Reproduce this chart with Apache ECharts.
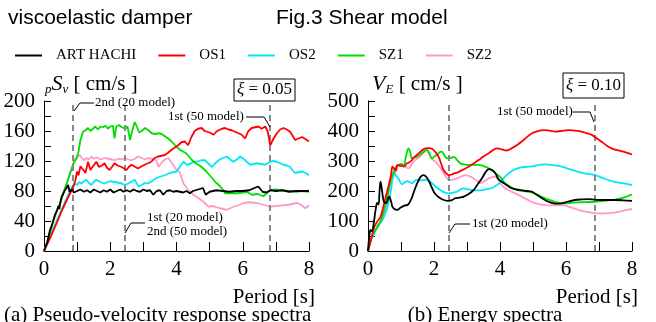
<!DOCTYPE html>
<html>
<head>
<meta charset="utf-8">
<script src="https://cdn.jsdelivr.net/npm/echarts@6/dist/echarts.min.js"></script>
<style>
  html, body { margin: 0; padding: 0; background: #fff; }
  #chart { width: 656px; height: 322px; }
</style>
</head>
<body>
<div id="chart"></div>
<script>
// series names, legend order
const seriesNames = ['ART HACHI', 'OS1', 'OS2', 'SZ1', 'SZ2']

// (a) pseudo-velocity response spectra [period s, cm/s]
const psvArt = [[0,0],[0.1,12],[0.18,28],[0.25,36],[0.33,48],[0.4,55],[0.43,60],[0.46,56],[0.5,66],[0.53,72],[0.58,76],[0.63,81],[0.68,84],[0.73,88],[0.77,79],[0.85,82],[0.9,78],[1.0,80],[1.1,82],[1.2,79],[1.3,81],[1.4,78],[1.5,82],[1.6,80],[1.7,78],[1.8,81],[1.9,79],[2.0,82],[2.1,78],[2.2,80],[2.3,82],[2.4,79],[2.5,81],[2.6,79],[2.7,82],[2.8,80],[2.9,79],[3.0,82],[3.1,80],[3.2,81],[3.3,75],[3.4,80],[3.5,81],[3.6,75],[3.7,80],[3.8,81],[3.9,79],[4.0,80],[4.2,78],[4.3,80],[4.4,77],[4.5,80],[4.65,82],[4.8,84],[4.88,75],[5.0,79],[5.2,81],[5.4,80],[5.6,79],[5.8,80],[6.0,80],[6.2,81],[6.35,84],[6.47,86],[6.6,79],[6.7,78],[6.85,81],[7.0,80],[7.2,81],[7.4,79],[7.6,80],[7.8,80],[8.0,80]]
const psvOs1 = [[0,0],[0.2,19],[0.38,37],[0.55,55],[0.69,68],[0.8,78],[0.89,86],[0.95,95],[1.0,106],[1.04,101],[1.1,113],[1.19,108],[1.25,104],[1.33,119],[1.4,108],[1.48,113],[1.58,119],[1.66,112],[1.75,114],[1.83,117],[1.9,111],[1.98,108],[2.05,112],[2.13,117],[2.22,114],[2.34,112],[2.42,110],[2.49,108],[2.56,112],[2.64,115],[2.72,113],[2.84,110],[2.95,113],[3.04,115],[3.14,117],[3.24,119],[3.34,124],[3.44,126],[3.55,127],[3.65,128],[3.75,131],[3.85,135],[3.95,138],[4.05,141],[4.15,145],[4.25,146],[4.35,141],[4.45,152],[4.55,160],[4.65,163],[4.76,164],[4.85,160],[4.91,159],[5.0,158],[5.12,155],[5.2,159],[5.27,161],[5.37,163],[5.47,164],[5.57,162],[5.67,161],[5.77,159],[5.87,157],[5.97,155],[6.07,150],[6.17,160],[6.27,164],[6.37,165],[6.47,166],[6.57,163],[6.68,166],[6.75,160],[6.83,141],[6.93,150],[7.03,157],[7.13,162],[7.23,164],[7.33,162],[7.43,159],[7.5,154],[7.58,148],[7.68,150],[7.79,152],[7.9,149],[8.0,146]]
const psvOs2 = [[0,0],[0.2,20],[0.4,42],[0.6,62],[0.78,79],[0.85,86],[0.93,90],[1.0,88],[1.06,92],[1.13,90],[1.2,93],[1.28,95],[1.35,91],[1.43,88],[1.5,92],[1.58,95],[1.66,93],[1.75,91],[1.83,90],[1.92,92],[2.0,93],[2.13,92],[2.25,91],[2.35,90],[2.44,88],[2.55,90],[2.65,93],[2.74,95],[2.8,90],[2.86,86],[2.95,88],[3.05,91],[3.14,90],[3.25,93],[3.39,97],[3.5,99],[3.65,101],[3.8,104],[4.0,106],[4.1,112],[4.21,119],[4.31,115],[4.41,116],[4.51,119],[4.61,119],[4.75,121],[4.86,121],[4.95,117],[5.07,112],[5.17,117],[5.27,121],[5.4,124],[5.52,126],[5.62,122],[5.72,119],[5.82,122],[5.92,126],[6.02,123],[6.12,119],[6.22,115],[6.32,116],[6.42,117],[6.55,116],[6.67,115],[6.75,117],[6.83,119],[6.93,120],[7.03,119],[7.13,117],[7.23,115],[7.33,114],[7.43,112],[7.5,108],[7.58,104],[7.68,105],[7.79,106],[7.9,104],[8.0,101]]
const psvSz1 = [[0,0],[0.15,18],[0.28,40],[0.4,55],[0.5,65],[0.58,77],[0.7,92],[0.79,104],[0.89,117],[0.98,123],[1.04,132],[1.1,148],[1.18,159],[1.25,161],[1.33,164],[1.4,160],[1.48,163],[1.55,166],[1.63,162],[1.7,166],[1.78,165],[1.86,167],[1.93,163],[2.0,166],[2.08,167],[2.13,150],[2.18,166],[2.26,168],[2.35,165],[2.45,163],[2.52,166],[2.6,148],[2.66,160],[2.74,172],[2.8,166],[2.87,158],[2.95,160],[3.05,164],[3.15,161],[3.25,157],[3.35,156],[3.45,157],[3.55,156],[3.65,153],[3.75,150],[3.85,146],[4.0,139],[4.1,135],[4.3,130],[4.45,122],[4.57,117],[4.7,114],[4.81,110],[4.9,106],[5.0,101],[5.1,96],[5.17,92],[5.25,89],[5.32,86],[5.4,82],[5.47,77],[5.6,77],[5.82,77],[6.0,78],[6.13,79],[6.27,75],[6.45,76],[6.62,73],[6.7,76],[6.83,81],[7.0,82],[7.13,81],[7.4,80],[7.63,79],[7.8,80],[8.0,79]]
const psvSz2 = [[0,0],[0.15,18],[0.28,40],[0.45,60],[0.58,77],[0.7,92],[0.8,105],[0.88,115],[0.93,123],[1.0,125],[1.08,128],[1.14,124],[1.2,121],[1.28,124],[1.35,122],[1.43,126],[1.5,123],[1.6,125],[1.7,122],[1.83,124],[1.95,123],[2.05,122],[2.13,121],[2.25,123],[2.35,122],[2.44,124],[2.55,122],[2.64,121],[2.75,123],[2.84,126],[2.95,124],[3.05,122],[3.14,124],[3.25,123],[3.39,121],[3.46,112],[3.55,118],[3.65,122],[3.75,124],[3.85,118],[4.0,108],[4.1,105],[4.21,90],[4.31,84],[4.41,79],[4.51,75],[4.61,72],[4.71,69],[4.81,66],[4.9,62],[4.97,59],[5.07,60],[5.17,59],[5.3,57],[5.42,56],[5.52,55],[5.62,57],[5.72,59],[5.87,61],[6.02,64],[6.2,65],[6.42,64],[6.6,62],[6.83,59],[7.0,60],[7.23,61],[7.43,62],[7.63,64],[7.75,62],[7.89,57],[8.0,61]]

// (b) energy spectra [period s, cm/s]
const veArt = [[0,0],[0.04,50],[0.08,70],[0.12,66],[0.18,98],[0.23,137],[0.28,160],[0.32,155],[0.35,200],[0.38,231],[0.43,198],[0.48,164],[0.55,160],[0.64,181],[0.7,165],[0.74,148],[0.8,140],[0.89,137],[0.97,143],[1.04,148],[1.12,152],[1.19,153],[1.25,160],[1.32,175],[1.4,200],[1.5,228],[1.6,248],[1.69,253],[1.78,245],[1.86,230],[1.94,210],[2.04,190],[2.19,176],[2.3,170],[2.44,167],[2.55,170],[2.65,176],[2.78,178],[2.9,181],[3.05,190],[3.2,203],[3.32,222],[3.45,242],[3.56,262],[3.66,273],[3.76,270],[3.86,259],[3.95,240],[4.05,231],[4.2,220],[4.35,209],[4.5,205],[4.65,203],[4.8,200],[4.96,198],[5.1,188],[5.27,176],[5.45,165],[5.62,159],[5.75,158],[5.87,159],[6.07,165],[6.27,170],[6.47,172],[6.67,173],[6.88,171],[7.08,170],[7.28,170],[7.48,170],[7.74,169],[8.0,167]]
const veOs1 = [[0,0],[0.1,40],[0.18,77],[0.28,98],[0.38,114],[0.46,145],[0.54,181],[0.63,220],[0.7,255],[0.74,281],[0.79,275],[0.84,268],[0.89,287],[0.96,284],[1.03,284],[1.09,281],[1.18,292],[1.29,298],[1.4,312],[1.54,326],[1.64,336],[1.74,342],[1.84,343],[1.94,341],[2.04,330],[2.14,314],[2.22,290],[2.29,270],[2.38,258],[2.46,253],[2.6,258],[2.75,264],[2.9,272],[3.05,281],[3.2,292],[3.35,303],[3.5,315],[3.66,326],[3.8,337],[3.92,342],[4.02,340],[4.1,337],[4.2,335],[4.35,342],[4.5,352],[4.65,364],[4.8,378],[4.96,392],[5.1,398],[5.25,402],[5.36,403],[5.5,401],[5.67,398],[5.85,400],[6.07,403],[6.27,401],[6.47,398],[6.62,393],[6.78,387],[6.93,376],[7.08,364],[7.23,352],[7.38,342],[7.55,336],[7.74,331],[8.0,322]]
const veOs2 = [[0,0],[0.1,40],[0.2,62],[0.3,85],[0.42,100],[0.5,118],[0.6,150],[0.7,205],[0.79,262],[0.86,250],[0.93,240],[1.03,222],[1.1,228],[1.18,233],[1.26,230],[1.33,226],[1.4,232],[1.48,237],[1.6,235],[1.74,237],[1.85,233],[1.94,226],[2.05,215],[2.19,203],[2.3,196],[2.44,192],[2.57,194],[2.7,198],[2.8,205],[2.9,209],[3.02,206],[3.15,203],[3.3,202],[3.45,203],[3.6,206],[3.76,210],[3.88,218],[4.0,228],[4.15,248],[4.3,262],[4.45,272],[4.6,278],[4.86,281],[5.1,285],[5.36,289],[5.6,286],[5.87,281],[6.1,273],[6.37,264],[6.6,258],[6.88,253],[7.1,244],[7.38,233],[7.7,226],[8.0,220]]
const veSz1 = [[0,0],[0.1,42],[0.2,65],[0.32,85],[0.42,110],[0.52,150],[0.6,190],[0.7,240],[0.78,264],[0.85,280],[0.93,287],[1.0,290],[1.08,287],[1.15,315],[1.23,342],[1.28,330],[1.33,309],[1.4,312],[1.48,314],[1.58,322],[1.69,331],[1.79,337],[1.86,325],[1.94,309],[2.02,316],[2.09,320],[2.16,328],[2.24,331],[2.32,318],[2.39,309],[2.5,310],[2.6,314],[2.7,303],[2.8,292],[2.95,288],[3.05,287],[3.2,287],[3.35,287],[3.5,283],[3.66,276],[3.8,265],[3.9,255],[4.0,248],[4.15,226],[4.35,212],[4.55,203],[4.7,200],[4.86,198],[5.05,192],[5.27,181],[5.45,172],[5.67,164],[5.85,160],[5.97,159],[6.2,161],[6.37,162],[6.6,163],[6.88,164],[7.1,166],[7.38,170],[7.55,173],[7.74,178],[7.9,184],[8.0,189]]
const veSz2 = [[0,0],[0.1,40],[0.2,62],[0.3,85],[0.42,105],[0.52,140],[0.6,185],[0.7,225],[0.78,248],[0.86,270],[0.93,287],[1.0,284],[1.08,285],[1.15,280],[1.23,276],[1.33,290],[1.43,303],[1.55,312],[1.69,328],[1.76,336],[1.84,326],[1.89,314],[1.96,305],[2.04,298],[2.14,285],[2.24,270],[2.35,250],[2.46,237],[2.58,238],[2.7,242],[2.82,248],[2.95,253],[3.08,249],[3.2,242],[3.3,234],[3.4,226],[3.52,232],[3.66,242],[3.76,246],[3.86,248],[3.93,240],[4.0,226],[4.15,209],[4.35,198],[4.55,187],[4.75,176],[4.96,164],[5.15,157],[5.36,153],[5.6,152],[5.87,153],[6.1,147],[6.37,137],[6.6,131],[6.88,126],[7.1,125],[7.28,126],[7.5,129],[7.68,133],[7.85,137],[8.0,140]]

// natural periods of the models (dashed lines)
const psvPeriods = [0.88, 2.45, 6.83]
const vePeriods = [2.44, 6.86]

const colors = ['#000000', '#ff0000', '#00e8f8', '#00dd00', '#ff99cc']
const zOrder = [6, 5, 3, 4, 2]
const serif = 'Liberation Serif'
const sans = 'Liberation Sans'

const chart = echarts.init(document.getElementById('chart'), null, { renderer: 'canvas' })

function xAxisOf(gridIndex) {
  return {
    type: 'value', gridIndex: gridIndex, min: 0, max: 8, interval: 1,
    axisLine: { lineStyle: { color: '#000', width: 1 } },
    axisTick: { inside: true, length: 9, lineStyle: { color: '#000' } },
    axisLabel: { margin: 8, fontFamily: serif, fontSize: 21, color: '#000',
      formatter: v => (v % 2 === 0 ? String(v) : '') },
    splitLine: { show: false }
  }
}
function yAxisOf(gridIndex, max, step) {
  return {
    type: 'value', gridIndex: gridIndex, min: 0, max: max, interval: step,
    axisLine: { show: true, lineStyle: { color: '#000', width: 1 } },
    axisTick: { show: true, inside: true, length: 7, lineStyle: { color: '#000' } },
    axisLabel: { margin: 9, fontFamily: serif, fontSize: 21, color: '#000',
      formatter: v => (v % (step * 2) === 0 ? String(v) : '') },
    splitLine: { show: false }
  }
}
function lineSet(lists, gridIndex, smooth, periods) {
  return lists.map((d, i) => {
    const s = {
      name: seriesNames[i], type: 'line', data: d,
      xAxisIndex: gridIndex, yAxisIndex: gridIndex,
      showSymbol: false, smooth: smooth, z: zOrder[i],
      lineStyle: { color: colors[i], width: 1.8 },
      itemStyle: { color: colors[i] }
    }
    if (i === 0) {
      s.markLine = {
        silent: true, symbol: 'none', label: { show: false },
        lineStyle: { color: '#888', width: 2, type: [6, 4] },
        data: periods.map(p => ({ xAxis: p }))
      }
    }
    return s
  })
}

function txt(x, y, text, size, opts) {
  return Object.assign({ type: 'text', x: x, y: y, z: 100,
    style: Object.assign({ text: text, font: size + 'px "' + serif + '"', fill: '#000',
      textVerticalAlign: 'middle' }, opts || {}) })
}
function leader(points) {
  return { type: 'polyline', z: 100, shape: { points: points }, style: { stroke: '#000', lineWidth: 1, fill: null } }
}

const subStyle = { fontFamily: serif, fontSize: 13, fontStyle: 'italic', verticalAlign: 'bottom', lineHeight: 13, padding: [8, 0, 0, 0] }
const itStyle = { fontFamily: serif, fontSize: 22, fontStyle: 'italic', lineHeight: 24 }
const nStyle = { fontFamily: serif, fontSize: 21, lineHeight: 24 }

const option = {
  animation: false,
  backgroundColor: '#fff',
  legend: {
    top: 43, left: 10, itemWidth: 27, itemHeight: 2, itemGap: 22, icon: 'rect',
    selectedMode: false,
    textStyle: { fontFamily: serif, fontSize: 15, color: '#000', padding: [0, 0, 0, 9] },
    data: seriesNames
  },
  grid: [
    { left: 44, top: 101, width: 265, height: 150 },
    { left: 368, top: 101, width: 264, height: 150 }
  ],
  xAxis: [xAxisOf(0), xAxisOf(1)],
  yAxis: [yAxisOf(0, 200, 20), yAxisOf(1, 500, 50)],
  series: [].concat(
    lineSet([psvArt, psvOs1, psvOs2, psvSz1, psvSz2], 0, false, psvPeriods),
    lineSet([veArt, veOs1, veOs2, veSz1, veSz2], 1, 0.4, vePeriods)
  ),
  graphic: [
    { type: 'text', x: 8, y: 18, style: { text: 'viscoelastic damper', font: '21px "' + sans + '"', fill: '#000', textVerticalAlign: 'middle' } },
    { type: 'text', x: 276, y: 18, style: { text: 'Fig.3 Shear model', font: '21px "' + sans + '"', fill: '#000', textVerticalAlign: 'middle' } },
    // axis titles
    { type: 'text', x: 45, y: 84, z: 100, style: { text: '{sub|p}{it|S}{sub|v}{n| [ cm/s ]}', rich: { sub: subStyle, it: itStyle, n: nStyle }, textVerticalAlign: 'middle' } },
    { type: 'text', x: 372, y: 84, z: 100, style: { text: '{it|V}{sub|E}{n| [ cm/s ]}', rich: { sub: subStyle, it: itStyle, n: nStyle }, textVerticalAlign: 'middle' } },
    // damping boxes
    { type: 'rect', z: 100, shape: { x: 234, y: 79, width: 61, height: 22 }, style: { fill: '#fff', stroke: '#000', lineWidth: 1 } },
    { type: 'text', x: 264.5, y: 90, z: 101, style: { text: '{it|ξ}{n| = 0.05}', rich: { it: { fontFamily: serif, fontSize: 17, fontStyle: 'italic' }, n: { fontFamily: serif, fontSize: 17 } }, textAlign: 'center', textVerticalAlign: 'middle' } },
    { type: 'rect', z: 100, shape: { x: 563, y: 73, width: 61, height: 25 }, style: { fill: '#fff', stroke: '#000', lineWidth: 1 } },
    { type: 'text', x: 593.5, y: 85.5, z: 101, style: { text: '{it|ξ}{n| = 0.10}', rich: { it: { fontFamily: serif, fontSize: 17, fontStyle: 'italic' }, n: { fontFamily: serif, fontSize: 17 } }, textAlign: 'center', textVerticalAlign: 'middle' } },
    // model annotations
    txt(95, 103, '2nd (20 model)', 13), leader([[74, 111], [80, 103], [94, 103]]),
    txt(168, 117, '1st (50 model)', 13), leader([[246, 117], [264, 117], [270, 127]]),
    txt(147, 218, '1st (20 model)', 13), txt(147, 232, '2nd (50 model)', 13), leader([[125, 233], [131, 223], [145, 223]]),
    txt(497, 112, '1st (50 model)', 13), leader([[573, 112], [590, 112], [594, 122]]),
    txt(472, 224, '1st (20 model)', 13), leader([[449, 233], [455, 224], [470, 224]]),
    // axis x titles and captions
    txt(315, 297, 'Period [s]', 21, { textAlign: 'right' }),
    txt(638, 297, 'Period [s]', 21, { textAlign: 'right' }),
    txt(4, 315, '(a) Pseudo-velocity response spectra', 21),
    txt(485, 315, '(b) Energy spectra', 21, { textAlign: 'center' })
  ]
}
chart.setOption(option)
</script>
</body>
</html>
